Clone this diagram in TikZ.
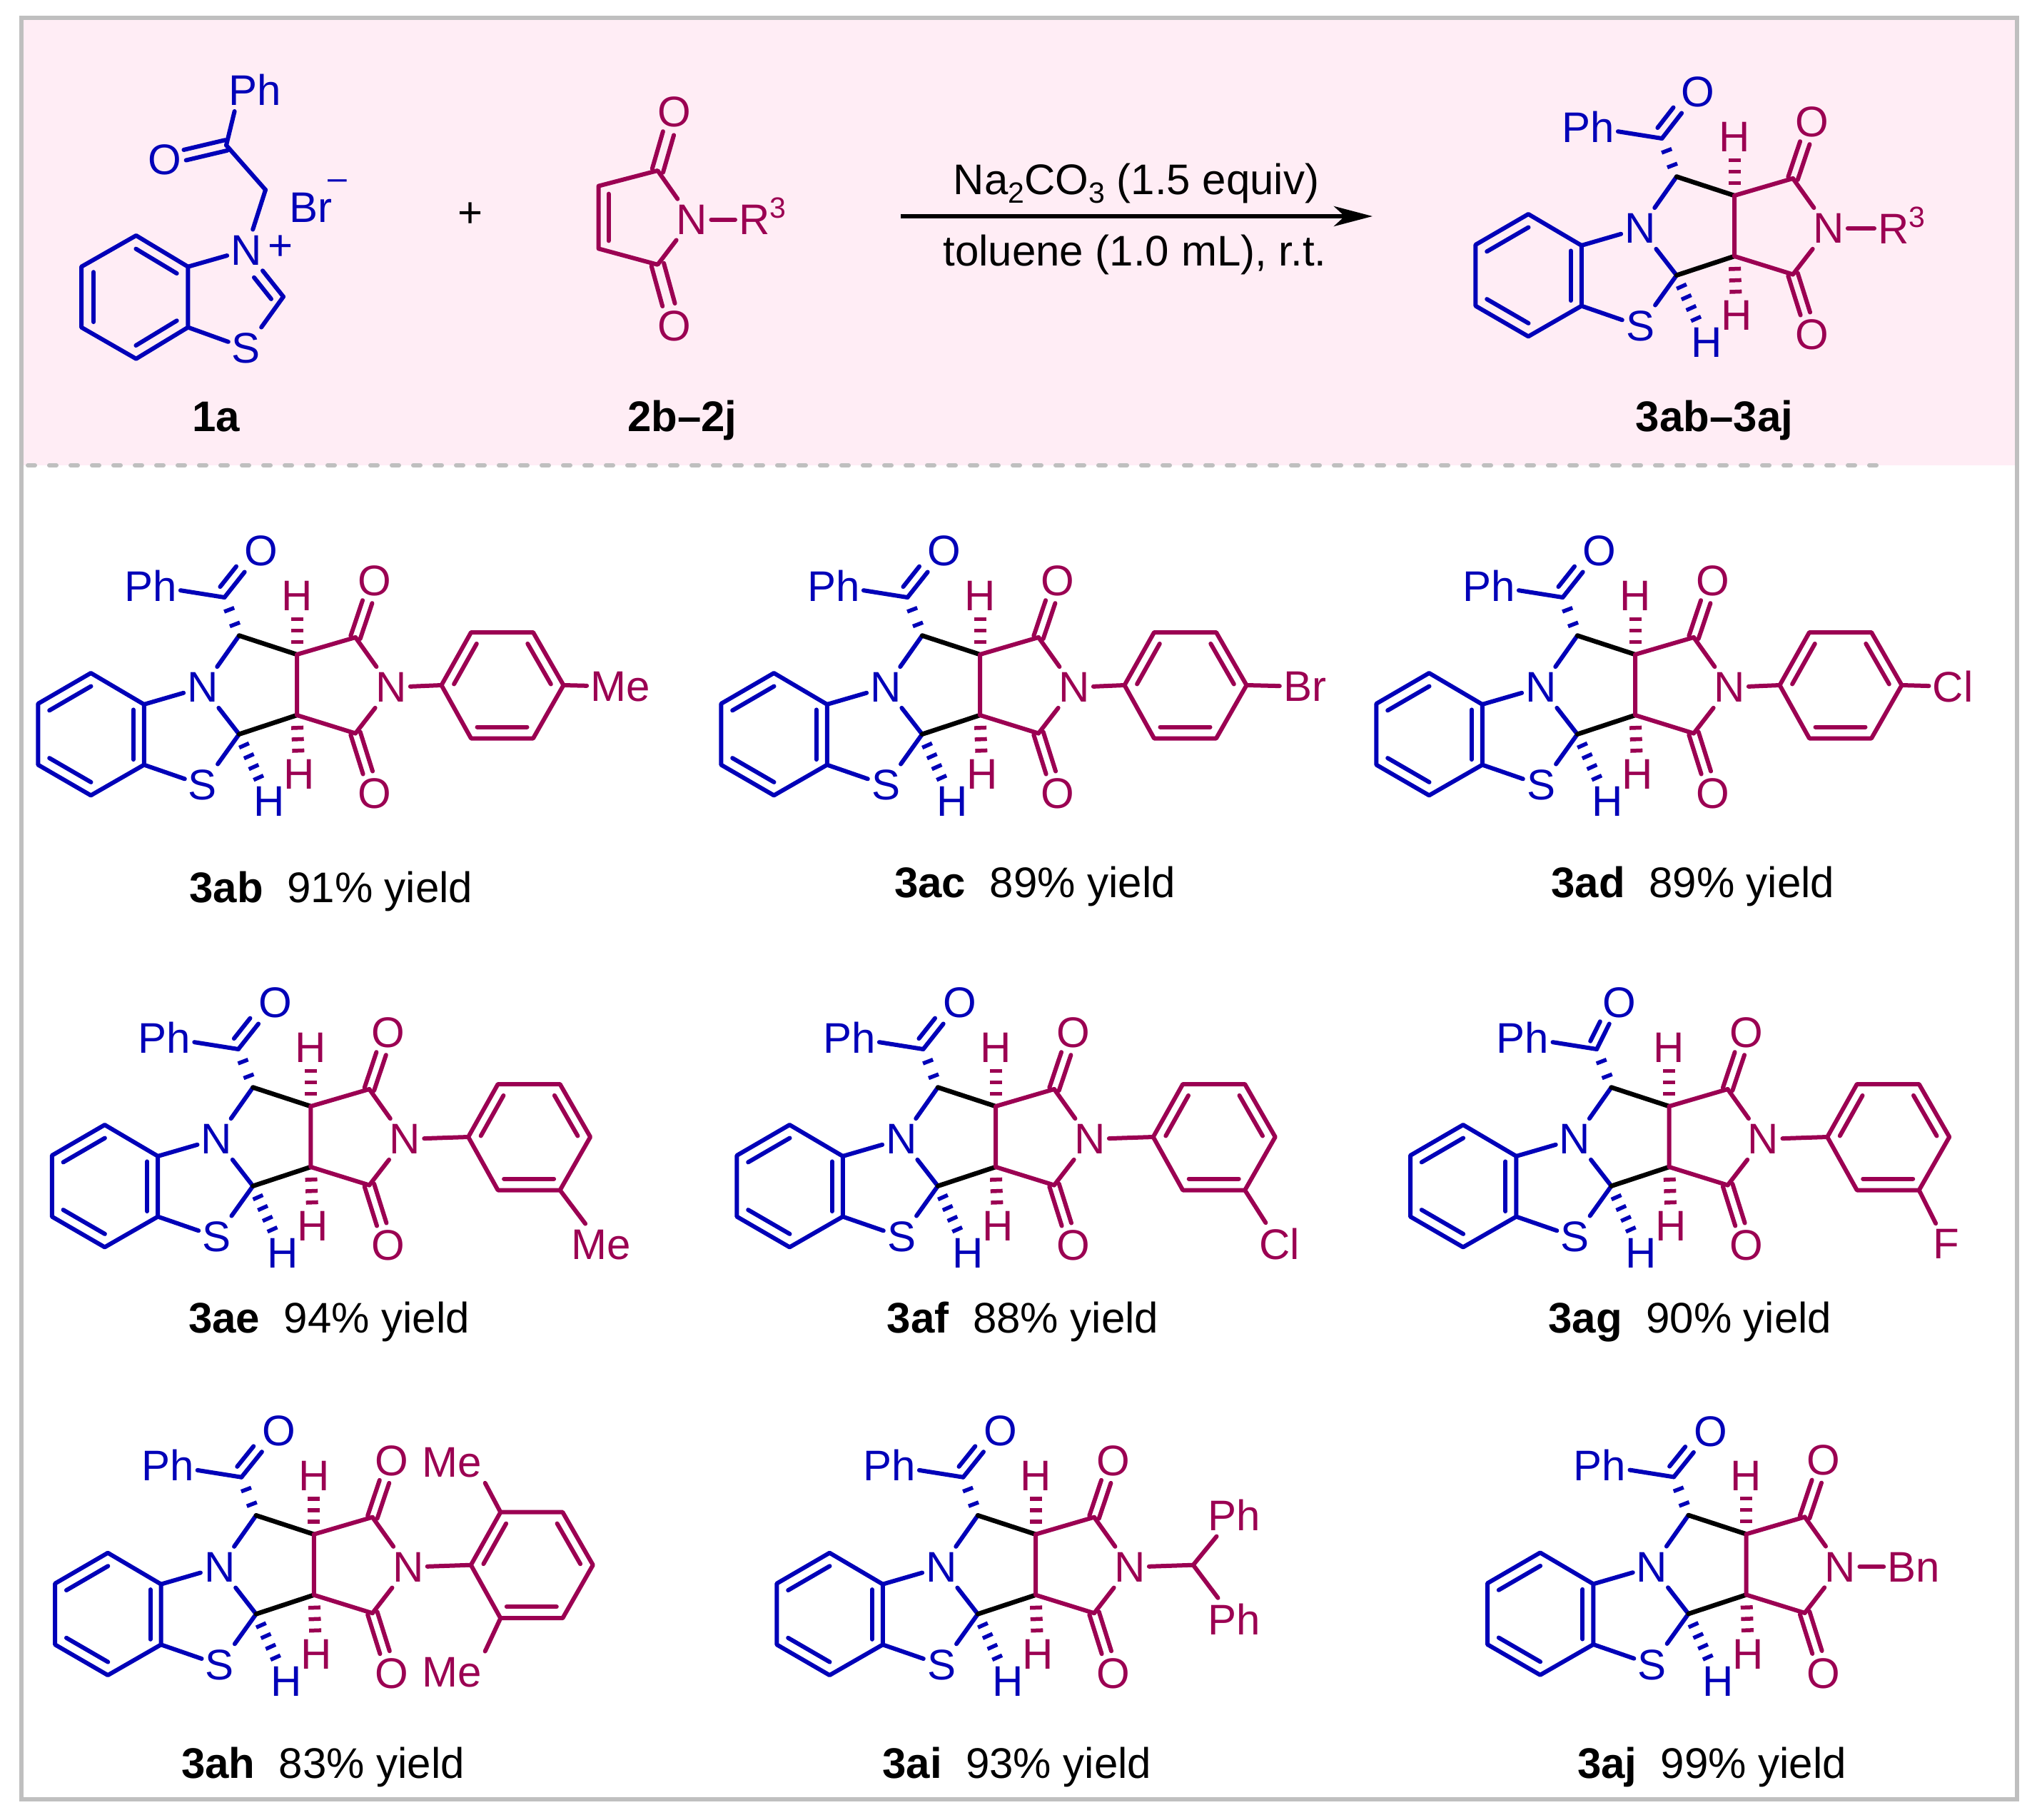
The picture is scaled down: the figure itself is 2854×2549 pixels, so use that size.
\documentclass[tikz,border=0pt]{standalone}
\usepackage{fontspec}
\setmainfont{Liberation Sans}
\usetikzlibrary{arrows.meta}
\definecolor{chemblue}{HTML}{0000B8}
\definecolor{chemred}{HTML}{9B0052}
\definecolor{panelpink}{HTML}{FFEDF5}
\definecolor{framegray}{HTML}{BFBFBF}
\newcommand{\chemsub}[1]{\raisebox{-12pt}{\fontsize{41}{43}\selectfont #1}}
\newcommand{\chemsup}[1]{\raisebox{23pt}{\fontsize{41}{43}\selectfont #1}}
\tikzset{
    bluebond/.style={
        draw=chemblue,
        line width=6pt,
        line cap=round,
        line join=round
    },
    redbond/.style={
        draw=chemred,
        line width=6pt,
        line cap=round,
        line join=round
    },
    blackbond/.style={
        draw=black,
        line width=6.5pt,
        line cap=round
    },
    bluenode/.style={text=chemblue},
    rednode/.style={text=chemred},
    off/.style={transform canvas={shift={(#1)}}},
    trim/.style={shorten <=#1pt, shorten >=#1pt},
    bluehash/.style={
        draw=chemblue,
        line width=15pt,
        dash pattern=on 5.5pt off 11pt,
        shorten <=14.5pt
    },
    redhash/.style={
        draw=chemred,
        line width=17pt,
        dash pattern=on 5.5pt off 10.5pt,
        shorten <=15pt
    },
    acylhash/.style={
        draw=chemblue,
        line width=15pt,
        dash pattern=on 5.5pt off 16.5pt,
        shorten <=14pt,
        shorten >=5pt
    },
    yieldlabel/.style={anchor=base}
}
% benzothiazole and imide core, origin at the ring N
\newcommand{\ringcore}[2]{
    \coordinate (a1) at (-156.7,-20);
    \coordinate (a2) at (-230.6,22.9);
    \coordinate (a3) at (-230.6,108.6);
    \coordinate (a4) at (-156.7,151.4);
    \coordinate (a5) at (-82.2,108.6);
    \coordinate (a6) at (-82.2,23.9);
    \coordinate (cs) at (51,65.7);
    \coordinate (cn) at (51,-72.5);
    \coordinate (ctop) at (132,-46);
    \coordinate (cbot) at (132,39);
    \coordinate (cotop) at (214,-70);
    \coordinate (cobot) at (214,64.5);
    \coordinate (acyl) at (30.5,-126);
    \node[bluenode] (nring) at (0,0) {N};
    \node[bluenode] (sring) at (0,137) {S};
    \node[rednode] (nim) at (264,0) {N};
    \node[rednode] (otop) at (240.6,-149.3) {O};
    \node[rednode] (obot) at (240.6,149) {O};
    \node[bluenode] (phacyl) at (-73,-142.5) {Ph};
    \node[bluenode] (oacyl) at (#1) {O};
    \node[rednode] (htop) at (132,-128) {H};
    \node[rednode] (hbot) at (135,122) {H};
    \node[bluenode] (hs) at (93,160) {H};
    \draw[bluebond] (a1) -- (a2) -- (a3) -- (a4) -- (a5) -- (a6) -- cycle;
    \draw[bluebond, off={8,14}, trim=9] (a1) -- (a2);
    \draw[bluebond, off={8,-14}, trim=9] (a3) -- (a4);
    \draw[bluebond, off={-15,0}, trim=7.5] (a5) -- (a6);
    \draw[bluebond] (a6) -- (nring);
    \draw[bluebond] (a5) -- (sring);
    \draw[bluebond] (nring) -- (cn);
    \draw[bluebond] (nring) -- (cs);
    \draw[bluebond] (sring) -- (cs);
    \draw[blackbond] (cn) -- (ctop);
    \draw[blackbond] (cs) -- (cbot);
    \draw[redbond] (cotop) -- (ctop) -- (cbot) -- (cobot);
    \draw[redbond] (cotop) -- (nim);
    \draw[redbond] (cobot) -- (nim);
    \draw[redbond, off={6.7,2}] (cotop) -- (otop);
    \draw[redbond, off={-6.7,-2}] (cotop) -- (otop);
    \draw[redbond, off={6.7,-2}] (cobot) -- (obot);
    \draw[redbond, off={-6.7,2}] (cobot) -- (obot);
    \draw[bluebond] (acyl) -- (phacyl);
    \draw[bluebond] (acyl) -- (oacyl);
    \draw[bluebond, off={#2}, shorten <=7pt, shorten >=2pt] (acyl) -- (oacyl);
    \draw[acylhash] (cn) -- (acyl);
    \draw[redhash] (ctop) -- (htop);
    \draw[redhash] (cbot) -- (hbot);
    \draw[bluehash] (cs) -- (hs);
}
% N-aryl ring, #1 is the ipso distance from the ring N
\newcommand{\arylring}[1]{
    \begin{scope}[shift={(#1,0)}]
        \coordinate (ipso) at (0,-3);
        \coordinate (orthoa) at (41.5,-77);
        \coordinate (metaa) at (128.5,-77);
        \coordinate (para) at (171,-3);
        \coordinate (metab) at (128.5,71.5);
        \coordinate (orthob) at (41.5,71.5);
        \draw[redbond] (ipso) -- (orthoa) -- (metaa) -- (para) -- (metab) -- (orthob) -- cycle;
        \draw[redbond, off={12.7,7.2}, trim=10] (ipso) -- (orthoa);
        \draw[redbond, off={-12.7,7.2}, trim=10] (metaa) -- (para);
        \draw[redbond, off={0,-16}, trim=8.5] (metab) -- (orthob);
    \end{scope}
    \draw[redbond] (nim) -- (ipso);
}
\begin{document}
\begin{tikzpicture}[
                x=1pt,
                y=-1pt,
                every node/.style={
                    inner xsep=5pt,
                    inner ysep=8pt,
                    font=\fontsize{60}{62}\selectfont
                }
            ]
            \useasboundingbox (0,0) rectangle (2854,2549);
            \fill[panelpink] (33,28) rectangle (2823,651.7);
            \draw[framegray, line width=6pt, line cap=round, dash pattern=on 10pt off 20pt] (39,652) -- (2631,652);
            \draw[framegray, line width=6pt] (30,25) rectangle (2826,2521);
            % salt 1a
            \coordinate (b1) at (190.7,330);
            \coordinate (b2) at (114,373.7);
            \coordinate (b3) at (114,458.6);
            \coordinate (b4) at (190.7,502.7);
            \coordinate (b5) at (263.4,458.6);
            \coordinate (b6) at (263.4,373.7);
            \coordinate (cthz) at (397,415.7);
            \coordinate (chtwo) at (372,266);
            \coordinate (cket) at (317,203.5);
            \node[bluenode] (nplus) at (345,350.4) {N};
            \node[bluenode] (sthz) at (345,488) {S};
            \node[bluenode] (okt) at (230.5,224) {O};
            \node[bluenode] (phket) at (357.5,126) {Ph};
            \node[bluenode] (brion) at (435.5,291) {Br};
            \node[bluenode, anchor=base, font=\fontsize{48}{50}\selectfont] (minus) at (473,265) {\textendash};
            \node[bluenode] (plus) at (393.4,347.5) {+};
            \draw[bluebond] (b1) -- (b2) -- (b3) -- (b4) -- (b5) -- (b6) -- cycle;
            \draw[bluebond, off={-8,14}, trim=9] (b1) -- (b6);
            \draw[bluebond, off={17,0}, trim=7.5] (b2) -- (b3);
            \draw[bluebond, off={-8,-14}, trim=9] (b4) -- (b5);
            \draw[bluebond] (b6) -- (nplus);
            \draw[bluebond] (b5) -- (sthz);
            \draw[bluebond] (sthz) -- (cthz);
            \draw[bluebond] (cthz) -- (nplus);
            \draw[bluebond, off={-12,9.5}, shorten <=8pt] (cthz) -- (nplus);
            \draw[bluebond] (nplus) -- (chtwo);
            \draw[bluebond] (chtwo) -- (cket);
            \draw[bluebond] (cket) -- ([xshift=13pt]phket.south west);
            \draw[bluebond, off={1.6,7.3}] (cket) -- (okt);
            \draw[bluebond, off={-1.6,-7.3}] (cket) -- (okt);
            \node[yieldlabel] (labela) at (303,604.7) {\textbf{1a}};
            \node (plustwo) at (659,301) {+};
            % maleimide 2
            \coordinate (ma) at (838.7,260.6);
            \coordinate (mb) at (838.7,348.4);
            \coordinate (mc) at (921.4,370.8);
            \coordinate (md) at (921.4,239);
            \node[rednode] (nmal) at (969.6,307.6) {N};
            \node[rednode] (omala) at (945,157.3) {O};
            \node[rednode] (omalb) at (945,456.5) {O};
            \node[rednode, anchor=base west] (rmal) at (1030,328.5) {R\chemsup{3}};
            \draw[redbond] (nmal) -- (md) -- (ma) -- (mb) -- (mc) -- (nmal);
            \draw[redbond, off={14,0}, trim=11] (ma) -- (mb);
            \draw[redbond, off={7.6,2.6}] (md) -- (omala);
            \draw[redbond, off={-7.6,-2.6}] (md) -- (omala);
            \draw[redbond, off={8.7,-2}] (mc) -- (omalb);
            \draw[redbond, off={-8.7,2}] (mc) -- (omalb);
            \draw[redbond] (nmal) -- (nmal -| rmal.west);
            \node[yieldlabel] (labelb) at (955.8,604.7) {\textbf{2b–2j}};
            % reaction arrow
            \coordinate (arrowstart) at (1262,303);
            \coordinate (arrowend) at (1923,303);
            \draw[line width=6pt, -{Stealth[length=54pt,width=28pt,inset=15pt]}] (arrowstart) -- (arrowend);
            \node[yieldlabel] (condtop) at (1592,272) {Na\chemsub{2}CO\chemsub{3} (1.5 equiv)};
            \node[yieldlabel] (condbot) at (1590,372.7) {toluene (1.0 mL), r.t.};
            % product
            \begin{scope}[shift={(2298,320)}, name prefix=hd-]
                \ringcore{81,-191}{-10.4,-9.4}
                \node[rednode, anchor=base west] (rthree) at (328,21) {R\chemsup{3}};
                \draw[redbond] (nim) -- (nim -| rthree.west);
            \end{scope}
            \node[yieldlabel] (labelc) at (2402,604.7) {\textbf{3ab–3aj}};
            % first row
            \begin{scope}[shift={(284,963)}, name prefix=ab-]
                \ringcore{82,-191}{-10.4,-9.4}
                \arylring{334.5}
                \node[rednode] (me) at (585,-1) {Me};
                \draw[redbond] (para) -- (me);
            \end{scope}
            \node[yieldlabel] (labelab) at (464,1264.6) {\textbf{3ab}\ \ 91\% yield};
            \begin{scope}[shift={(1241,963)}, name prefix=ac-]
                \ringcore{82,-191}{-10.4,-9.4}
                \arylring{334.5}
                \node[rednode] (br) at (587,-1) {Br};
                \draw[redbond] (para) -- (br);
            \end{scope}
            \node[yieldlabel] (labelac) at (1450,1257) {\textbf{3ac}\ \ 89\% yield};
            \begin{scope}[shift={(2159,963)}, name prefix=ad-]
                \ringcore{82,-191}{-10.4,-9.4}
                \arylring{334.5}
                \node[rednode] (cl) at (577,-1) {Cl};
                \draw[redbond] (para) -- (cl);
            \end{scope}
            \node[yieldlabel] (labelad) at (2372,1257) {\textbf{3ad}\ \ 89\% yield};
            % second row
            \begin{scope}[shift={(303.4,1596)}, name prefix=ae-]
                \ringcore{82,-191}{-10.4,-9.4}
                \arylring{352.7}
                \node[rednode] (me) at (538.7,147.7) {Me};
                \draw[redbond] (metab) -- (me);
            \end{scope}
            \node[yieldlabel] (labelae) at (461,1867) {\textbf{3ae}\ \ 94\% yield};
            \begin{scope}[shift={(1263,1596)}, name prefix=af-]
                \ringcore{82,-191}{-10.4,-9.4}
                \arylring{352.7}
                \node[rednode] (cl) at (529.6,147.4) {Cl};
                \draw[redbond] (metab) -- (cl);
            \end{scope}
            \node[yieldlabel] (labelaf) at (1433,1867) {\textbf{3af}\ \ 88\% yield};
            \begin{scope}[shift={(2206.6,1596)}, name prefix=ag-]
                \ringcore{62.7,-191}{-12,-5}
                \arylring{353.6}
                \node[rednode] (fl) at (520,147) {F};
                \draw[redbond] (metab) -- (fl);
            \end{scope}
            \node[yieldlabel] (labelag) at (2368,1867) {\textbf{3ag}\ \ 90\% yield};
            % third row
            \begin{scope}[shift={(307.8,2195.7)}, name prefix=ah-]
                \ringcore{82.8,-191}{-10.4,-9.4}
                \arylring{352}
                \node[rednode] (mea) at (325,-147) {Me};
                \node[rednode] (meb) at (325,147) {Me};
                \draw[redbond] (orthoa) -- (mea.south east);
                \draw[redbond] (orthob) -- (meb.north east);
            \end{scope}
            \node[yieldlabel] (labelah) at (452.7,2491) {\textbf{3ah}\ \ 83\% yield};
            \begin{scope}[shift={(1319,2195.7)}, name prefix=ai-]
                \ringcore{82.6,-191}{-10.4,-9.4}
                \coordinate (chph) at (352.7,-3);
                \node[rednode] (pha) at (410,-73) {Ph};
                \node[rednode] (phb) at (410,73) {Ph};
                \draw[redbond] (nim) -- (chph);
                \draw[redbond] (chph) -- (pha);
                \draw[redbond] (chph) -- (phb);
            \end{scope}
            \node[yieldlabel] (labelai) at (1424.8,2491) {\textbf{3ai}\ \ 93\% yield};
            \begin{scope}[shift={(2314.6,2195.4)}, name prefix=aj-]
                \ringcore{82,-190}{-10.4,-9.4}
                \node[rednode] (bn) at (366.5,0) {Bn};
                \draw[redbond] (nim) -- (bn);
            \end{scope}
            \node[yieldlabel] (labelaj) at (2398.5,2491) {\textbf{3aj}\ \ 99\% yield};
\end{tikzpicture}
\end{document}
